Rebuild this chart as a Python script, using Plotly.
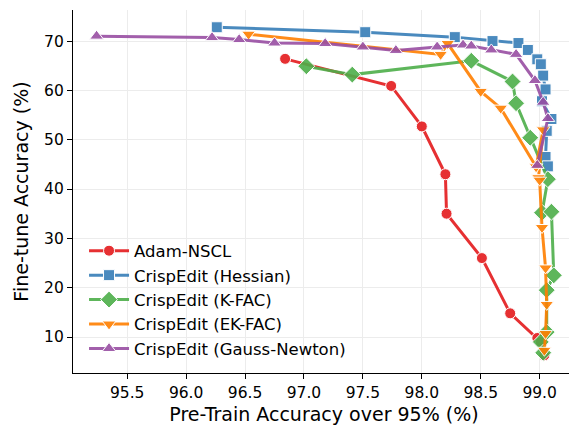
import plotly.graph_objects as go

# Data
adam_x = [96.84, 97.74, 98.00, 98.20, 98.21, 98.51, 98.75, 98.98, 99.01, 99.04]
adam_y = [66.4, 60.9, 52.7, 43.0, 35.0, 26.0, 14.8, 9.8, 9.0, 6.3]

hess_x = [96.26, 97.52, 98.28, 98.60, 98.82, 98.90, 98.98, 99.01, 99.03, 99.05, 99.02, 99.10, 99.06, 99.05, 99.07]
hess_y = [72.8, 71.8, 70.8, 70.0, 69.6, 68.2, 66.3, 65.3, 63.0, 60.2, 57.8, 54.2, 51.8, 46.5, 44.6]

kfac_x = [97.02, 97.41, 98.42, 98.77, 98.80, 98.92, 99.07, 99.02, 99.10, 99.12, 99.06, 99.06, 99.01, 99.03]
kfac_y = [64.9, 63.2, 66.0, 61.8, 57.4, 50.4, 42.0, 35.2, 35.4, 22.5, 19.5, 11.0, 9.0, 6.8]

ekfac_x = [96.53, 98.16, 98.22, 98.50, 98.67, 98.97, 99.03, 98.99, 99.00, 99.02, 99.05, 99.06, 99.05, 99.04]
ekfac_y = [71.4, 67.3, 69.5, 59.8, 56.4, 44.5, 52.0, 42.3, 41.8, 32.2, 24.0, 16.6, 10.7, 7.3]

gn_x = [95.24, 96.22, 96.45, 96.75, 97.18, 97.50, 97.78, 98.13, 98.35, 98.42, 98.59, 98.80, 98.96, 99.03, 99.07, 98.98]
gn_y = [71.0, 70.7, 70.3, 69.6, 69.5, 68.8, 68.1, 68.8, 69.2, 69.0, 68.2, 67.3, 62.0, 57.6, 54.3, 44.8]

series = [
    ("Adam-NSCL", adam_x, adam_y, "#e41a1c", "circle", 11),
    ("CrispEdit (Hessian)", hess_x, hess_y, "#377eb8", "square", 11),
    ("CrispEdit (K-FAC)", kfac_x, kfac_y, "#4daf4a", "diamond", 13),
    ("CrispEdit (EK-FAC)", ekfac_x, ekfac_y, "#ff7f00", "triangle-down", 12),
    ("CrispEdit (Gauss-Newton)", gn_x, gn_y, "#984ea3", "triangle-up", 12),
]

fig = go.Figure()
for name, xs, ys, color, sym, size in series:
    fig.add_trace(go.Scatter(
        x=xs, y=ys, name=name, mode="lines+markers",
        line=dict(color=color, width=3),
        marker=dict(symbol=sym, size=size, color=color,
                    line=dict(color="white", width=1)),
        opacity=0.9,
    ))

font_family = "DejaVu Sans"
fig.update_layout(
    width=569, height=420,
    margin=dict(l=65, r=2, t=2, b=55, autoexpand=False),
    paper_bgcolor="white", plot_bgcolor="white",
    font=dict(family=font_family, color="black"),
    showlegend=True,
    legend=dict(
        x=0.022, y=0.018, xanchor="left", yanchor="bottom",
        bgcolor="rgba(255,255,255,0)", borderwidth=0,
        font=dict(size=16.5, family=font_family, color="black"),
        tracegroupgap=0, itemwidth=40,
    ),
)
fig.update_xaxes(
    range=[95.04, 99.30],
    tickvals=[95.5, 96.0, 96.5, 97.0, 97.5, 98.0, 98.5, 99.0],
    ticktext=["95.5", "96.0", "96.5", "97.0", "97.5", "98.0", "98.5", "99.0"],
    ticks="outside", ticklen=5, tickwidth=1.2, tickcolor="black",
    showline=True, linecolor="black", linewidth=1.3,
    showgrid=True, gridcolor="#ececec", gridwidth=1,
    zeroline=False,
    tickfont=dict(size=15.5, family=font_family, color="black"),
    title=dict(text="Pre-Train Accuracy over 95% (%)", font=dict(size=19, family=font_family, color="black"), standoff=6),
)
fig.update_yaxes(
    range=[2.7, 76.3],
    tickvals=[10, 20, 30, 40, 50, 60, 70],
    ticks="outside", ticklen=5, tickwidth=1.2, tickcolor="black",
    showline=True, linecolor="black", linewidth=1.3,
    showgrid=True, gridcolor="#ececec", gridwidth=1,
    zeroline=False,
    tickfont=dict(size=15.5, family=font_family, color="black"),
    title=dict(text="Fine-tune Accuracy (%)", font=dict(size=19, family=font_family, color="black"), standoff=10),
)

fig.write_html("out.html")
